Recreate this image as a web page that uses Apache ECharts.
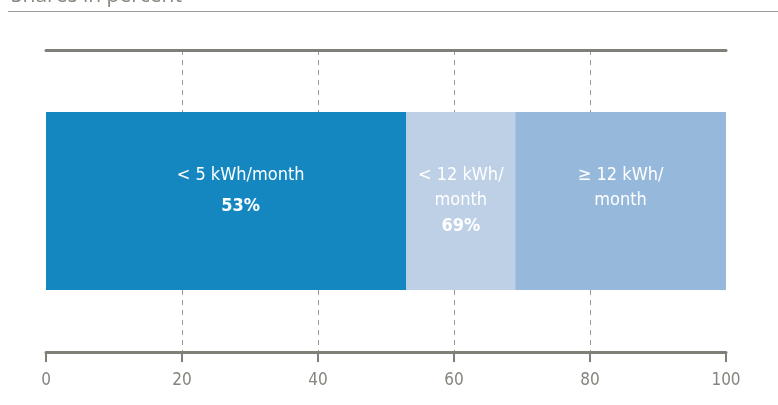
<!DOCTYPE html>
<html>
<head>
<meta charset="utf-8">
<script src="https://cdn.jsdelivr.net/npm/echarts@6/dist/echarts.min.js"></script>
<style>
  html, body { margin: 0; padding: 0; background: #fff; }
  #chart { width: 778px; height: 405px; }
</style>
</head>
<body>
<div id="chart"></div>
<script>
// shares in percent, stacked left to right
var categories = ['Shares']
var segmentNames = ['< 5 kWh/month', '< 12 kWh/\nmonth', '≥ 12 kWh/\nmonth']
var segmentValues = [53, 16, 31]
var cumulativeLabels = ['53%', '69%', '']
var tickValues = [0, 20, 40, 60, 80, 100]

var colors = ['#1487c0', '#bed0e6', '#96b8db']
var grey = '#7f7e77'
var font = "'Liberation Sans Narrow', 'DejaVu Sans Condensed', 'Open Sans', sans-serif"

var chart = echarts.init(document.getElementById('chart'))

var series = segmentValues.map(function(v, i) {
  return {
    name: segmentNames[i],
    type: 'bar',
    stack: 'total',
    barWidth: 178,
    data: [v],
    itemStyle: { color: colors[i] },
    label: {
      show: true,
      position: [i === 0 ? '54%' : '50%', 51],
      align: 'center',
      verticalAlign: 'top',
      color: '#fff',
      fontFamily: font,
      fontSize: 18,
      lineHeight: 25,
      formatter: function() {
        var s = segmentNames[i]
        if (cumulativeLabels[i]) s += '\n{' + (i === 0 ? 'b1' : 'b') + '|' + cumulativeLabels[i] + '}'
        return s
      },
      rich: {
        b: { fontWeight: 'bold', fontSize: 18, color: '#fff', fontFamily: font, lineHeight: 26 },
        b1: { fontWeight: 'bold', fontSize: 18, color: '#fff', fontFamily: font, lineHeight: 30, padding: [6, 0, 0, 0] }
      }
    }
  }
})

chart.setOption({
  animation: false,
  title: {
    text: 'Shares in percent',
    left: 6,
    top: -19,
    textStyle: { color: '#8a8780', fontSize: 21, fontWeight: 'normal', fontFamily: "'Open Sans', sans-serif" }
  },
  graphic: [{
    type: 'line',
    shape: { x1: 8, y1: 11.5, x2: 778, y2: 11.5 },
    style: { stroke: '#a09d96', lineWidth: 1 }
  }],
  grid: { left: 46, right: 52, top: 50, bottom: 53 },
  xAxis: [{
    type: 'value',
    position: 'bottom',
    min: tickValues[0],
    max: tickValues[tickValues.length - 1],
    interval: 20,
    axisLine: { show: true, lineStyle: { color: grey, width: 3 } },
    axisTick: { show: true, length: 10, lineStyle: { color: grey, width: 2 } },
    axisLabel: { color: '#86847d', fontSize: 17, fontFamily: font, margin: 20 },
    splitLine: {
      show: true,
      lineStyle: {
        type: [5, 5],
        width: 1,
        color: ['transparent', '#9a9890', '#9a9890', '#9a9890', '#9a9890', 'transparent']
      }
    }
  }, {
    type: 'value',
    position: 'top',
    min: 0,
    max: 100,
    interval: 20,
    axisLine: { show: true, lineStyle: { color: grey, width: 3 } },
    axisTick: { show: false },
    axisLabel: { show: false },
    splitLine: { show: false }
  }],
  yAxis: {
    type: 'category',
    data: categories,
    axisLine: { show: false },
    axisTick: { show: false },
    axisLabel: { show: false }
  },
  series: series
})
</script>
</body>
</html>
